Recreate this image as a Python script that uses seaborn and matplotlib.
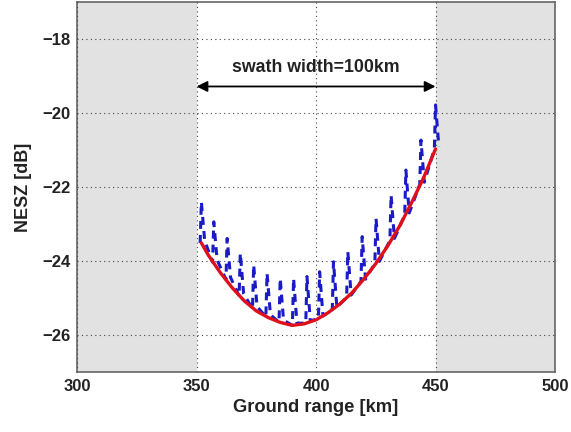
import numpy as np
import pandas as pd
import matplotlib
matplotlib.use("Agg")
import matplotlib.pyplot as plt
import seaborn as sns

# ---- data ----
red_km = [352, 355, 360, 365, 370, 375, 380, 385, 390, 395, 400, 405, 410,
          415, 420, 425, 430, 435, 440, 445, 450]
red_db = [-23.51, -23.85, -24.32, -24.73, -25.08, -25.35, -25.53, -25.66, -25.74,
          -25.70, -25.59, -25.40, -25.16, -24.86, -24.49, -24.07, -23.59, -23.05,
          -22.42, -21.75, -20.97]

col_km = [352.0, 357.2, 362.8, 368.3, 373.9, 379.5, 385.0, 390.6, 396.2,
          401.5, 407.3, 413.3, 419.3, 425.1, 431.4, 437.6, 443.9, 450.0]
col_top = [-22.40, -22.94, -23.39, -23.79, -24.11, -24.33, -24.47, -24.47, -24.42,
           -24.29, -24.02, -23.75, -23.34, -22.85, -22.22, -21.54, -20.73, -19.78]
col_base = [-23.51, -24.03, -24.50, -24.95, -25.29, -25.51, -25.66, -25.74, -25.68,
            -25.55, -25.31, -24.98, -24.55, -24.07, -23.45, -22.76, -21.93, -20.97]

xticks = [300, 350, 400, 450, 500]
yticks = [-26, -24, -22, -20, -18]

# ---- build blue (scalloped) series ----
bx, by = [], []
for c, t, b in zip(col_km, col_top, col_base):
    bx += [c - 0.5, c, c + 1.4]
    by += [b, t, b + 0.06]
blue = pd.DataFrame({"km": bx, "db": by})
red = pd.DataFrame({"km": red_km, "db": red_db})

sns.set_style("white")
plt.rcParams["font.family"] = ["Liberation Sans", "DejaVu Sans"]
plt.rcParams["font.weight"] = "bold"

fig = plt.figure(figsize=(5.71, 4.32), dpi=100)
ax = fig.add_axes([0.135, 0.139, 0.837, 0.856])
ax.set_facecolor("white")

ax.axvspan(300, 350, color="#e2e2e2", zorder=0, lw=0)
ax.axvspan(450, 500, color="#e2e2e2", zorder=0, lw=0)

sns.lineplot(data=blue, x="km", y="db", ax=ax, color="#1a1ac8", lw=2.2,
             sort=False, estimator=None, zorder=3)
ax.lines[-1].set_dashes((2.6, 2.0))
sns.lineplot(data=red, x="km", y="db", ax=ax, color="#e0101a", lw=2.4,
             sort=False, estimator=None, zorder=4)

ax.set_xlim(300, 500)
ax.set_ylim(-27, -17)
ax.set_xticks(xticks)
ax.set_yticks(yticks)
ax.set_xticklabels([str(v) for v in xticks])
ax.set_yticklabels(["\u2212" + str(abs(v)) for v in yticks])
ax.grid(True, linestyle=(0, (1, 3)), color="#444444", lw=0.8, zorder=1)
ax.set_axisbelow(False)
for g in ax.get_xgridlines() + ax.get_ygridlines():
    g.set_zorder(1)
ax.tick_params(direction="in", length=3, labelsize=12, colors="#222222",
               pad=5)
for lab in ax.get_xticklabels() + ax.get_yticklabels():
    lab.set_fontweight("bold")
for s in ax.spines.values():
    s.set_color("#666666")
    s.set_linewidth(1.2)

ax.set_xlabel("Ground range [km]", fontsize=13.2, fontweight="bold", color="#222222",
              labelpad=4)
ax.set_ylabel("NESZ [dB]", fontsize=13, fontweight="bold", color="#222222",
              labelpad=7)

ax.annotate("", xy=(350, -19.28), xytext=(450, -19.28),
            arrowprops=dict(arrowstyle="<|-|>", color="black", lw=1.3,
                            mutation_scale=16, shrinkA=0, shrinkB=0), zorder=5)
ax.text(400, -18.78, "swath width=100km", ha="center", va="center",
        fontsize=12.8, fontweight="bold", color="#222222", zorder=5)

fig.savefig("out.png", dpi=100)
